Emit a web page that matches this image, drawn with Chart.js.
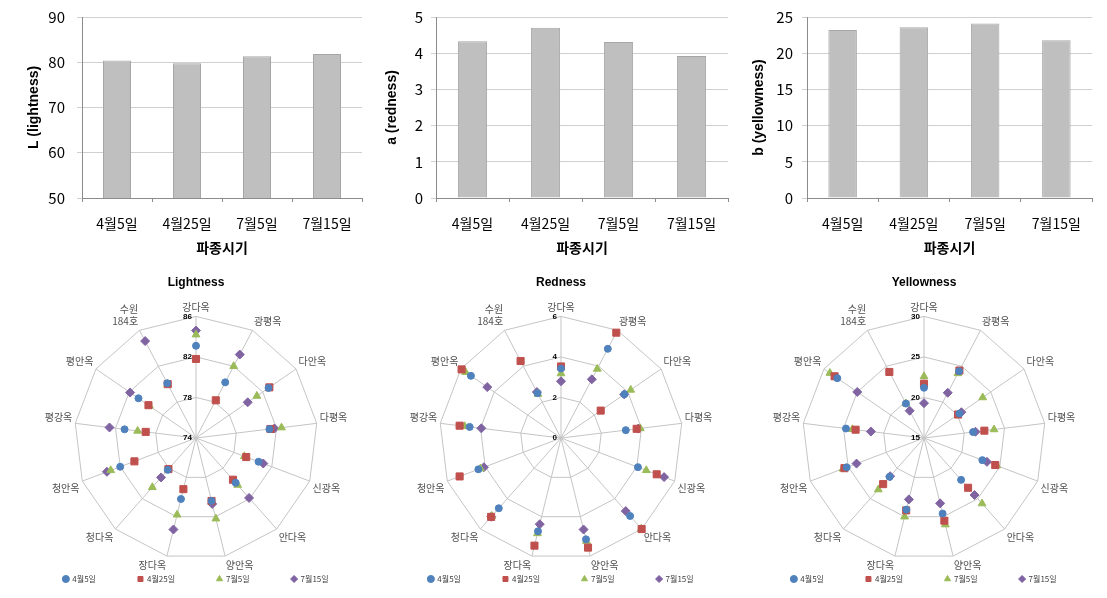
<!DOCTYPE html>
<html>
<head>
<meta charset="utf-8">
<script src="https://cdn.jsdelivr.net/npm/chart.js@4.4.1/dist/chart.umd.min.js"></script>
<style>
body { margin: 0; background: #fff; width: 1107px; height: 598px; overflow: hidden; position: relative; }
canvas { position: absolute; }
</style>
</head>
<body>
<canvas id="bar-l" width="370" height="260" style="left:0;top:0"></canvas>
<canvas id="bar-a" width="370" height="260" style="left:370px;top:0"></canvas>
<canvas id="bar-b" width="367" height="260" style="left:740px;top:0"></canvas>
<canvas id="radar-l" width="330" height="328" style="left:31px;top:265px"></canvas>
<canvas id="radar-a" width="330" height="328" style="left:396px;top:265px"></canvas>
<canvas id="radar-b" width="330" height="328" style="left:759px;top:265px"></canvas>
<script>
const KR = "'Noto Sans CJK KR', sans-serif";
const LAT = "'Liberation Sans', 'Noto Sans CJK KR', sans-serif";

// sowing dates (bar categories + radar series)
const sowingDates = ['4월5일', '4월25일', '7월5일', '7월15일'];
const varieties = ['강다옥', '광평옥', '다안옥', '다평옥', '신광옥', '안다옥', '양안옥',
    '장다옥', '청다옥', '청안옥', '평강옥', '평안옥', ['수원', '184호']];

// bar means
const barLightness = [80.4, 79.8, 81.3, 81.8];
const barRedness = [4.33, 4.70, 4.31, 3.92];
const barYellowness = [23.2, 23.6, 24.1, 21.8];

// radar: lightness
const lightApr5 = [83.1, 80.2, 82.7, 81.3, 80.6, 79.9, 80.4, 80.2, 78.2, 82.0, 81.1, 80.9, 80.1];
const lightApr25 = [81.8, 78.2, 82.8, 81.4, 79.3, 79.5, 80.4, 79.2, 78.1, 80.5, 79.0, 79.7, 80.0];
const lightJul5 = [84.2, 82.0, 81.3, 82.5, 79.1, 80.2, 82.2, 81.8, 80.5, 83.0, 79.8, 79.6, 80.0];
const lightJul15 = [84.6, 83.3, 80.2, 81.8, 81.1, 81.9, 80.7, 83.3, 79.2, 83.4, 82.6, 81.9, 84.8];

// radar: redness
const redApr5 = [3.43, 4.97, 3.80, 3.22, 4.06, 5.14, 5.15, 4.74, 4.63, 4.36, 4.54, 5.40, 2.50];
const redApr25 = [3.53, 5.87, 2.38, 3.76, 5.05, 6.00, 5.57, 5.47, 5.20, 5.35, 5.04, 5.96, 4.29];
const redJul5 = [3.18, 3.85, 4.18, 3.94, 4.50, 5.98, 5.24, 4.85, 5.15, 4.25, 4.79, 5.72, 2.45];
const redJul15 = [2.80, 3.27, 3.79, 3.84, 5.44, 4.82, 4.65, 4.38, 5.19, 4.07, 3.96, 4.42, 2.56];

// radar: yellowness
const yelApr5 = [21.2, 24.3, 20.3, 21.1, 22.7, 21.9, 24.6, 24.1, 21.4, 25.2, 24.7, 28.0, 19.8];
const yelApr25 = [21.7, 24.4, 20.1, 22.5, 24.4, 23.2, 25.5, 24.2, 22.6, 25.5, 23.5, 28.4, 24.2];
const yelJul5 = [22.6, 24.0, 23.8, 23.7, 24.6, 25.8, 26.0, 25.0, 23.5, 25.7, 23.9, 29.1, 19.8];
const yelJul15 = [19.3, 21.3, 20.6, 21.4, 23.3, 24.4, 23.3, 22.8, 21.3, 23.9, 21.6, 25.0, 18.8];

const seriesColors = ['#4f81bd', '#c0504d', '#9bbb59', '#8064a2'];
const seriesStyles = ['circle', 'rect', 'triangle', 'rectRot'];
const seriesRadius = [3.5, 5, 4.5, 4.5];

function createBar(id, values, yTitle, min, max, step, axisWidth, titlePad, tickPad, padRight) {
    new Chart(document.getElementById(id), {
        type: 'bar',
        data: {
            labels: sowingDates,
            datasets: [{
                data: values,
                backgroundColor: '#bfbfbf',
                borderColor: '#a6a6a6',
                borderWidth: 1,
                barPercentage: 0.4,
                categoryPercentage: 1
            }]
        },
        options: {
            responsive: false,
            animation: false,
            layout: {padding: {top: 17, right: padRight, bottom: 0, left: 0}},
            plugins: {legend: {display: false}, tooltip: {enabled: false}},
            scales: {
                x: {
                    grid: {drawOnChartArea: false, tickLength: 4, color: '#8c8c8c'},
                    border: {color: '#8c8c8c'},
                    ticks: {font: {size: 14, family: KR}, color: '#000', padding: 13},
                    title: {display: true, text: '파종시기', color: '#000',
                        font: {size: 14, weight: 'bold', family: KR}, padding: {top: 0, bottom: 4}},
                    afterFit: (s) => { s.height = 62; }
                },
                y: {
                    min: min,
                    max: max,
                    ticks: {stepSize: step, font: {size: 15, family: KR, lineHeight: 0.6}, color: '#000', padding: tickPad},
                    grid: {color: '#d0d0d0', tickLength: 5},
                    border: {color: '#8c8c8c'},
                    title: {display: true, text: yTitle, color: '#000',
                        font: {size: 14, weight: 'bold', family: LAT}, padding: {top: titlePad, bottom: 0}},
                    afterFit: (s) => { s.width = axisWidth; }
                }
            }
        }
    });
}

// tick values drawn just left of the top spoke
const radarTicks = {
    id: 'radarTicks',
    beforeDatasetsDraw(chart) {
        const r = chart.scales.r;
        const ctx = chart.ctx;
        ctx.save();
        ctx.font = 'bold 8px ' + LAT;
        ctx.fillStyle = '#000';
        ctx.textAlign = 'right';
        ctx.textBaseline = 'middle';
        r.ticks.forEach((t) => {
            const d = r.getDistanceFromCenterForValue(t.value);
            ctx.fillText(String(t.value), r.xCenter - 4, r.yCenter - d);
        });
        ctx.restore();
    }
};

function createRadar(id, title, min, max, step, series) {
    const datasets = series.map((vals, i) => ({
        label: sowingDates[i],
        data: vals,
        showLine: false,
        fill: false,
        clip: false,
        borderColor: seriesColors[i],
        backgroundColor: seriesColors[i],
        pointBackgroundColor: seriesColors[i],
        pointBorderColor: seriesColors[i],
        pointBorderWidth: 1,
        pointStyle: seriesStyles[i],
        pointRadius: seriesRadius[i]
    }));

    new Chart(document.getElementById(id), {
        type: 'radar',
        data: {labels: varieties, datasets: datasets},
        options: {
            responsive: false,
            animation: false,
            layout: {padding: {left: 0, right: 0, top: 0, bottom: 0}},
            plugins: {
                tooltip: {enabled: false},
                title: {display: true, text: title, color: '#000',
                    font: {size: 12, weight: 'bold', family: LAT}, padding: {top: 10, bottom: 10}},
                legend: {
                    position: 'bottom',
                    labels: {
                        usePointStyle: true,
                        boxWidth: 5,
                        boxHeight: 5,
                        padding: 2,
                        color: '#404040',
                        font: {size: 8, family: KR},
                        generateLabels: (chart) => Chart.defaults.plugins.legend.labels.generateLabels(chart)
                            .map((l, i) => Object.assign(l, {text: i < 3 ? l.text + '\u2003\u2003\u2003\u2003\u2003' : l.text}))
                    }
                }
            },
            scales: {
                r: {
                    min: min,
                    max: max,
                    ticks: {display: false, stepSize: step},
                    grid: {color: '#c4c4c4'},
                    angleLines: {color: '#c4c4c4'},
                    pointLabels: {font: {size: 10, family: KR}, color: '#505050', padding: 3}
                }
            }
        },
        plugins: [radarTicks]
    });
}

createBar('bar-l', barLightness, 'L (lightness)', 50, 90, 10, 82, 26, 12, 8);
createBar('bar-a', barRedness, 'a (redness)', 0, 5, 1, 66, 14, 8, 12);
createBar('bar-b', barYellowness, 'b (yellowness)', 0, 25, 5, 67, 11, 9, 15);

createRadar('radar-l', 'Lightness', 74, 86, 4, [lightApr5, lightApr25, lightJul5, lightJul15]);
createRadar('radar-a', 'Redness', 0, 6, 2, [redApr5, redApr25, redJul5, redJul15]);
createRadar('radar-b', 'Yellowness', 15, 30, 5, [yelApr5, yelApr25, yelJul5, yelJul15]);
</script>
</body>
</html>
